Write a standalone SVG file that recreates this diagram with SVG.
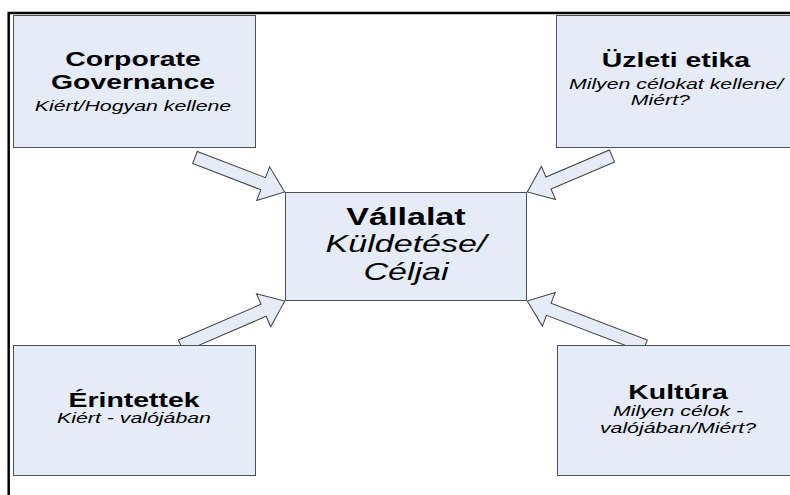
<svg xmlns="http://www.w3.org/2000/svg" width="790" height="495" viewBox="0 0 790 495">
<style>
.box{fill:#e5ecf7;stroke:#505050;stroke-width:1}
.arrow{fill:#e5ecf7;stroke:#404040;stroke-width:1;stroke-linejoin:miter}
.b{font-family:"Liberation Sans",Arial,sans-serif;font-weight:bold;fill:#000;text-anchor:middle}
.i{font-family:"Liberation Sans",Arial,sans-serif;font-style:italic;fill:#000;text-anchor:middle}
.frame{stroke:#000;stroke-width:2.5;fill:none}
</style>
<rect width="790" height="495" fill="#fff"/>
<path class="frame" d="M8.7,495 V13 H790"/>
<g id="connectors">
<polygon class="arrow" transform="translate(195,157.5) rotate(21)" points="0,-6.5 73,-6.5 73,-18 96,0 73,18 73,6.5 0,6.5"/>
<polygon class="arrow" transform="translate(612,156) rotate(157)" points="0,-6.5 69,-6.5 69,-18 92,0 69,18 69,6.5 0,6.5"/>
<polygon class="arrow" transform="translate(181,346) rotate(-23.4)" points="0,-6.5 90,-6.5 90,-18 113,0 90,18 90,6.5 0,6.5"/>
<polygon class="arrow" transform="translate(645,346) rotate(200.9)" points="0,-6.5 103,-6.5 103,-18 126,0 103,18 103,6.5 0,6.5"/>
</g>
<g id="corporate-governance">
<rect class="box" x="13.5" y="15.5" width="242" height="132"/>
<g transform="translate(133,0) scale(1.42,1)">
<text class="b" x="0" y="66" font-size="20">Corporate</text>
<text class="b" x="0" y="89" font-size="20">Governance</text>
<text class="i" x="0" y="111" font-size="15">Kiért/Hogyan kellene</text>
</g>
</g>
<g id="uzleti-etika">
<rect class="box" x="556.5" y="15.5" width="244" height="132"/>
<g transform="translate(676,0) scale(1.42,1)">
<text class="b" x="0" y="67" font-size="20">Üzleti etika</text>
<text class="i" x="0" y="89" font-size="15">Milyen célokat kellene/</text>
<text class="i" x="-11" y="105" font-size="15">Miért?</text>
</g>
</g>
<g id="vallalat">
<rect class="box" x="285.5" y="192.5" width="241" height="108"/>
<g transform="translate(406,0) scale(1.42,1)">
<text class="b" x="0" y="225" font-size="24">Vállalat</text>
<text class="i" x="0" y="252" font-size="24">Küldetése/</text>
<text class="i" x="0" y="280" font-size="24">Céljai</text>
</g>
</g>
<g id="erintettek">
<rect class="box" x="13.5" y="345.5" width="242" height="130"/>
<g transform="translate(134,0) scale(1.42,1)">
<text class="b" x="0" y="407" font-size="20">Érintettek</text>
<text class="i" x="0" y="423" font-size="15">Kiért - valójában</text>
</g>
</g>
<g id="kultura">
<rect class="box" x="557.5" y="345.5" width="243" height="130"/>
<g transform="translate(678,0) scale(1.42,1)">
<text class="b" x="0" y="399" font-size="20">Kultúra</text>
<text class="i" x="0" y="416" font-size="15">Milyen célok -</text>
<text class="i" x="0" y="433" font-size="15">valójában/Miért?</text>
</g>
</g>
</svg>
